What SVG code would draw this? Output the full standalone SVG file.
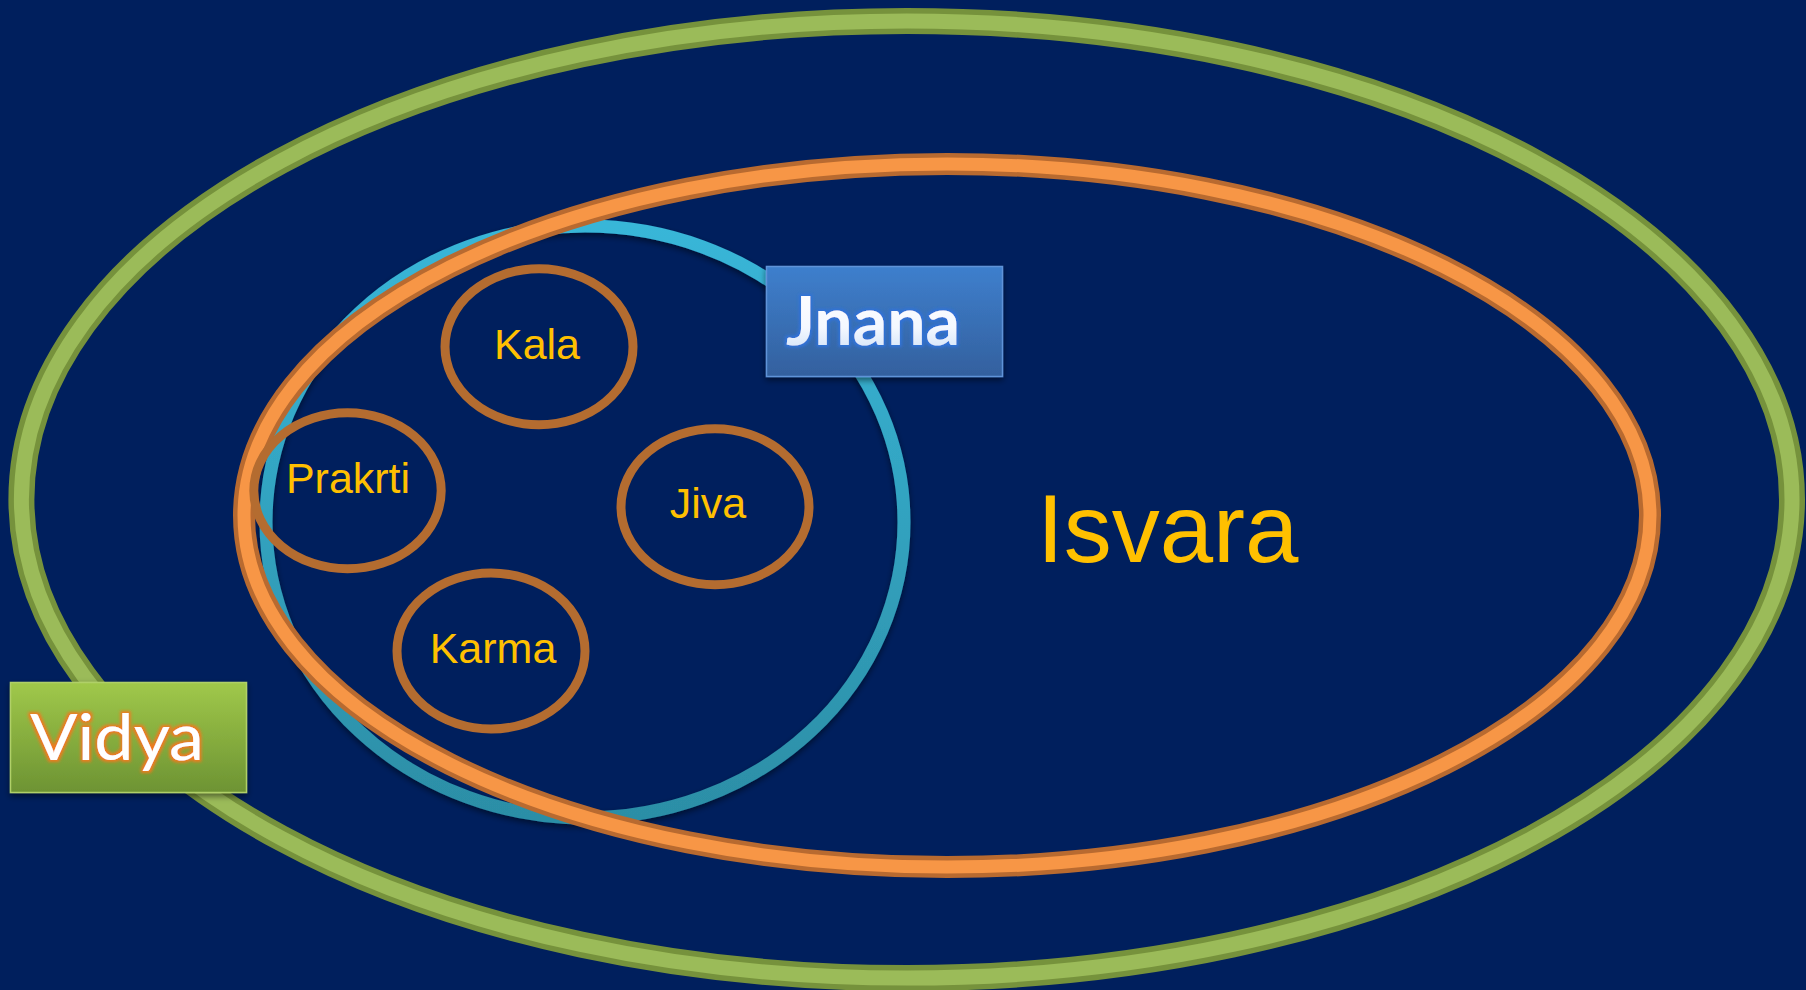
<svg xmlns="http://www.w3.org/2000/svg" width="1806" height="990" viewBox="0 0 1806 990">
<defs>
<linearGradient id="cyanGrad" x1="0" y1="0" x2="0" y2="1">
<stop offset="0" stop-color="#38B6D8"/>
<stop offset="1" stop-color="#2C8EA6"/>
</linearGradient>
<linearGradient id="jnanaGrad" x1="0" y1="0" x2="0" y2="1">
<stop offset="0" stop-color="#3E7FCD"/>
<stop offset="1" stop-color="#33609E"/>
</linearGradient>
<linearGradient id="vidyaGrad" x1="0" y1="0" x2="0" y2="1">
<stop offset="0" stop-color="#A0C84A"/>
<stop offset="1" stop-color="#6D9333"/>
</linearGradient>
<linearGradient id="jnanaText" x1="0" y1="0" x2="0" y2="1">
<stop offset="0" stop-color="#FFFFFF"/>
<stop offset="0.6" stop-color="#F4F8FF"/>
<stop offset="1" stop-color="#C9DDF6"/>
</linearGradient>
<filter id="shadow" x="-10%" y="-10%" width="120%" height="130%">
<feGaussianBlur in="SourceAlpha" stdDeviation="3"/>
<feOffset dx="0" dy="3" result="b"/>
<feComponentTransfer><feFuncA type="linear" slope="0.5"/></feComponentTransfer>
<feMerge><feMergeNode/><feMergeNode in="SourceGraphic"/></feMerge>
</filter>
<filter id="blueGlow" x="-20%" y="-30%" width="140%" height="160%">
<feMorphology in="SourceAlpha" operator="dilate" radius="1.5" result="d"/>
<feGaussianBlur in="d" stdDeviation="1.5" result="g"/>
<feFlood flood-color="#2F72D8"/>
<feComposite in2="g" operator="in"/>
<feMerge><feMergeNode/><feMergeNode in="SourceGraphic"/></feMerge>
</filter>
<filter id="orangeGlow" x="-20%" y="-30%" width="140%" height="160%">
<feMorphology in="SourceAlpha" operator="dilate" radius="1.8" result="d"/>
<feGaussianBlur in="d" stdDeviation="1.6" result="g"/>
<feFlood flood-color="#F07A1E"/>
<feComposite in2="g" operator="in"/>
<feMerge><feMergeNode/><feMergeNode in="SourceGraphic"/></feMerge>
</filter>
</defs>
<style>
.ring-dark-g{fill:none;stroke:#76923C;stroke-width:26}
.ring-light-g{fill:none;stroke:#9BBB59;stroke-width:15}
.ring-dark-o{fill:none;stroke:#B86A30;stroke-width:22}
.ring-light-o{fill:none;stroke:#F79646;stroke-width:13}
.small{fill:none;stroke:#B46C30;stroke-width:9}
.lbl{font-family:"Liberation Sans",Arial,sans-serif;fill:#FFC000;text-anchor:middle}
</style>
<rect x="0" y="0" width="1806" height="990" fill="#001F5D"/>

<g id="vidya-ring">
<ellipse class="ring-dark-g" cx="906.7" cy="499.5" rx="885.3" ry="478.6"/>
<ellipse class="ring-light-g" cx="906.7" cy="499.5" rx="885.3" ry="478.6"/>
</g>

<g id="jnana-ring" filter="url(#shadow)">
<ellipse cx="585" cy="522" rx="319" ry="296" fill="none" stroke="url(#cyanGrad)" stroke-width="13"/>
</g>

<g id="isvara">
<ellipse class="ring-dark-o" cx="947" cy="515.5" rx="703" ry="351.6"/>
<ellipse class="ring-light-o" cx="947" cy="515.5" rx="703" ry="351.6"/>
<text class="lbl" x="1037" y="562" font-size="96" text-anchor="start" style="text-anchor:start">Isvara</text>
</g>

<g id="kala">
<ellipse class="small" cx="539" cy="346.7" rx="94" ry="78"/>
<text class="lbl" x="537" y="359" font-size="43">Kala</text>
</g>
<g id="prakrti">
<ellipse class="small" cx="347.5" cy="490.8" rx="93.7" ry="78"/>
<text class="lbl" x="348" y="493" font-size="43">Prakrti</text>
</g>
<g id="jiva">
<ellipse class="small" cx="715" cy="506.8" rx="94" ry="78"/>
<text class="lbl" x="708" y="518" font-size="43">Jiva</text>
</g>
<g id="karma">
<ellipse class="small" cx="491" cy="651" rx="94" ry="78"/>
<text class="lbl" x="493" y="663" font-size="43">Karma</text>
</g>

<g id="jnana" filter="url(#shadow)">
<rect x="766.5" y="266.5" width="236" height="110" fill="url(#jnanaGrad)" stroke="#5E93D8" stroke-width="1.5"/>
<text x="786" y="345" font-family="Lato,'Open Sans',sans-serif" font-weight="700" font-size="66" fill="url(#jnanaText)" textLength="174" lengthAdjust="spacingAndGlyphs" filter="url(#blueGlow)">Jnana</text>
</g>

<g id="vidya" filter="url(#shadow)">
<rect x="10.5" y="682.5" width="236" height="110" fill="url(#vidyaGrad)" stroke="#B0D068" stroke-width="1.5"/>
<text x="30" y="760" font-family="Lato,'Open Sans',sans-serif" font-weight="400" font-size="63" fill="#FFFFFF" textLength="174" lengthAdjust="spacingAndGlyphs" filter="url(#orangeGlow)">Vidya</text>
</g>

<g id="connectors"/>
</svg>
